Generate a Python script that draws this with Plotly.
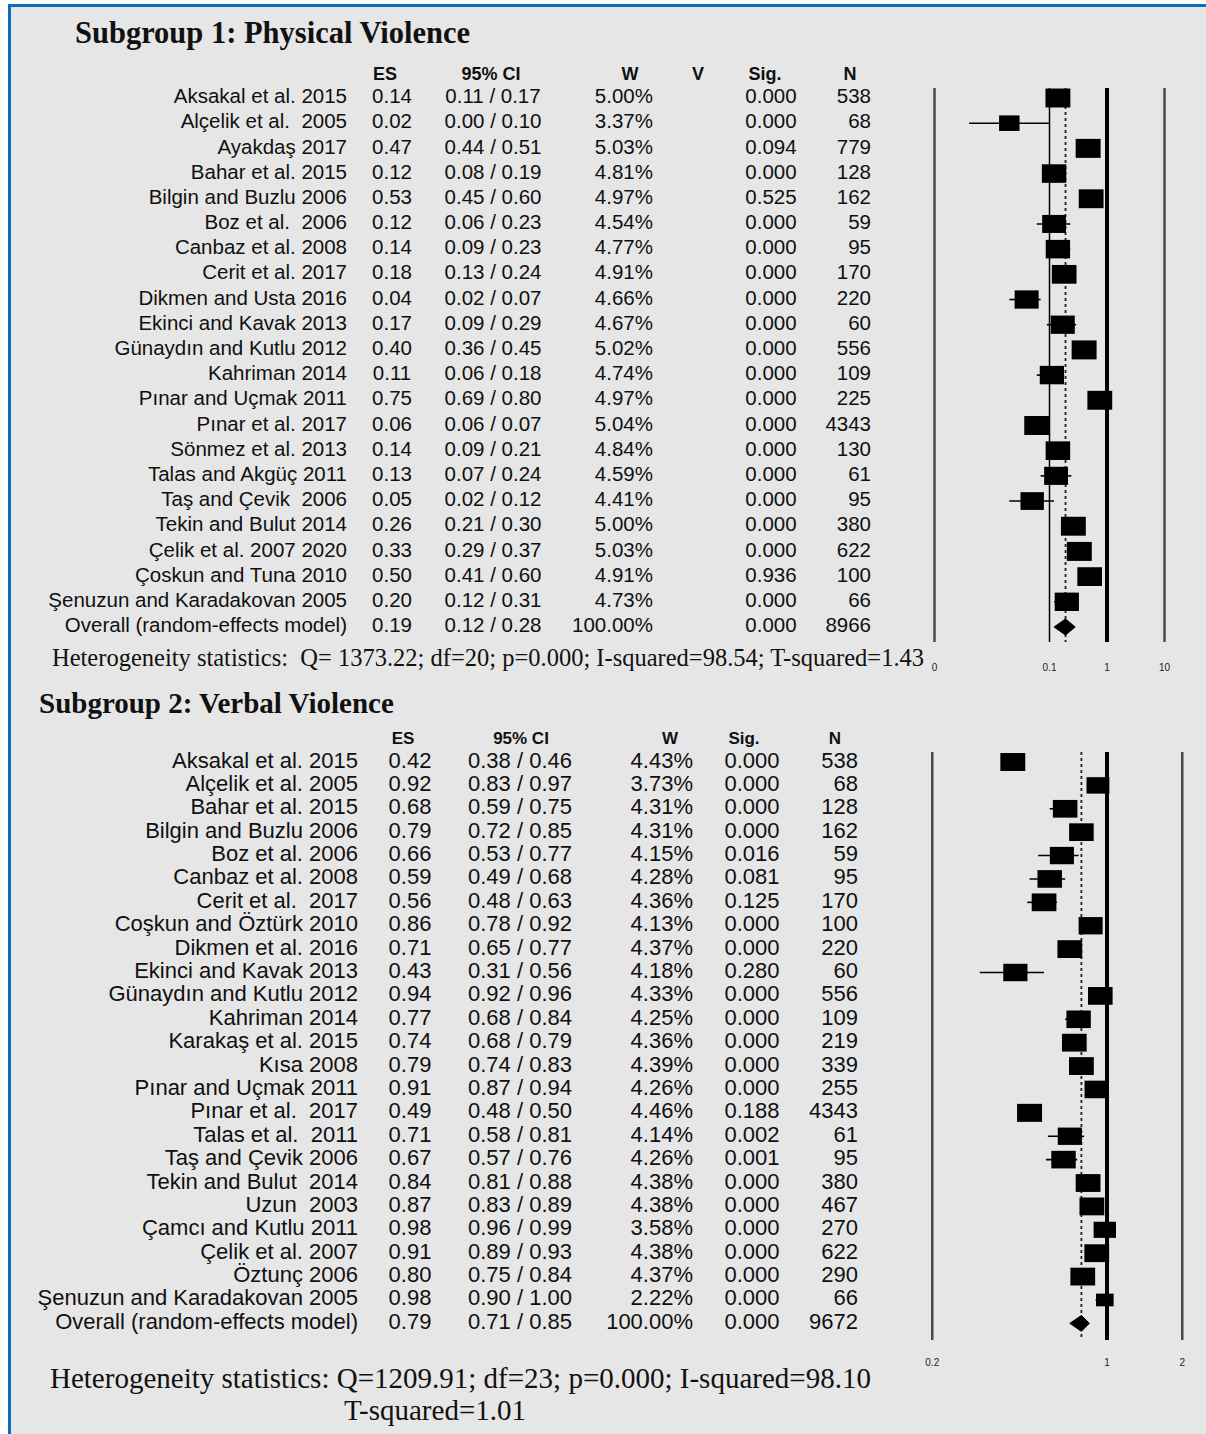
import math
import plotly.graph_objects as go

W_PX, H_PX = 1206, 1434

# ---------------- Subgroup 1: Physical Violence ----------------
s1_names = [
    "Aksakal et al. 2015", "Alçelik et al.  2005", "Ayakdaş 2017", "Bahar et al. 2015",
    "Bilgin and Buzlu 2006", "Boz et al.  2006", "Canbaz et al. 2008", "Cerit et al. 2017",
    "Dikmen and Usta 2016", "Ekinci and Kavak 2013", "Günaydın and Kutlu 2012", "Kahriman 2014",
    "Pınar and Uçmak 2011", "Pınar et al. 2017", "Sönmez et al. 2013", "Talas and Akgüç 2011",
    "Taş and Çevik  2006", "Tekin and Bulut 2014", "Çelik et al. 2007 2020", "Çoskun and Tuna 2010",
    "Şenuzun and Karadakovan 2005",
]
s1_es = [0.14, 0.02, 0.47, 0.12, 0.53, 0.12, 0.14, 0.18, 0.04, 0.17, 0.40, 0.11,
         0.75, 0.06, 0.14, 0.13, 0.05, 0.26, 0.33, 0.50, 0.20]
s1_lo = [0.11, 0.004, 0.44, 0.08, 0.45, 0.06, 0.09, 0.13, 0.02, 0.09, 0.36, 0.06,
         0.69, 0.06, 0.09, 0.07, 0.02, 0.21, 0.29, 0.41, 0.12]
s1_hi = [0.17, 0.10, 0.51, 0.19, 0.60, 0.23, 0.23, 0.24, 0.07, 0.29, 0.45, 0.18,
         0.80, 0.07, 0.21, 0.24, 0.12, 0.30, 0.37, 0.60, 0.31]
s1_w = [5.00, 3.37, 5.03, 4.81, 4.97, 4.54, 4.77, 4.91, 4.66, 4.67, 5.02, 4.74,
        4.97, 5.04, 4.84, 4.59, 4.41, 5.00, 5.03, 4.91, 4.73]
s1_sig = [0.000, 0.000, 0.094, 0.000, 0.525, 0.000, 0.000, 0.000, 0.000, 0.000, 0.000, 0.000,
          0.000, 0.000, 0.000, 0.000, 0.000, 0.000, 0.000, 0.936, 0.000]
s1_n = [538, 68, 779, 128, 162, 59, 95, 170, 220, 60, 556, 109,
        225, 4343, 130, 61, 95, 380, 622, 100, 66]
s1_overall = ["Overall (random-effects model)", 0.19, 0.12, 0.28, 100.00, 0.000, 8966]
s1_tickvals = [0.001, 0.1, 1, 10]
s1_ticktext = ["0", "0.1", "1", "10"]
s1_headers = ["ES", "95% CI", "W", "V", "Sig.", "N"]
s1_hetero = "Heterogeneity statistics:  Q= 1373.22; df=20; p=0.000; I-squared=98.54; T-squared=1.43"

# ---------------- Subgroup 2: Verbal Violence ----------------
s2_names = [
    "Aksakal et al. 2015", "Alçelik et al. 2005", "Bahar et al. 2015", "Bilgin and Buzlu 2006",
    "Boz et al. 2006", "Canbaz et al. 2008", "Cerit et al.  2017", "Coşkun and Öztürk 2010",
    "Dikmen et al. 2016", "Ekinci and Kavak 2013", "Günaydın and Kutlu 2012", "Kahriman 2014",
    "Karakaş et al. 2015", "Kısa 2008", "Pınar and Uçmak 2011", "Pınar et al.  2017",
    "Talas et al.  2011", "Taş and Çevik 2006", "Tekin and Bulut  2014", "Uzun  2003",
    "Çamcı and Kutlu 2011", "Çelik et al. 2007", "Öztunç 2006", "Şenuzun and Karadakovan 2005",
]
s2_es = [0.42, 0.92, 0.68, 0.79, 0.66, 0.59, 0.56, 0.86, 0.71, 0.43, 0.94, 0.77,
         0.74, 0.79, 0.91, 0.49, 0.71, 0.67, 0.84, 0.87, 0.98, 0.91, 0.80, 0.98]
s2_lo = [0.38, 0.83, 0.59, 0.72, 0.53, 0.49, 0.48, 0.78, 0.65, 0.31, 0.92, 0.68,
         0.68, 0.74, 0.87, 0.48, 0.58, 0.57, 0.81, 0.83, 0.96, 0.89, 0.75, 0.90]
s2_hi = [0.46, 0.97, 0.75, 0.85, 0.77, 0.68, 0.63, 0.92, 0.77, 0.56, 0.96, 0.84,
         0.79, 0.83, 0.94, 0.50, 0.81, 0.76, 0.88, 0.89, 0.99, 0.93, 0.84, 1.00]
s2_w = [4.43, 3.73, 4.31, 4.31, 4.15, 4.28, 4.36, 4.13, 4.37, 4.18, 4.33, 4.25,
        4.36, 4.39, 4.26, 4.46, 4.14, 4.26, 4.38, 4.38, 3.58, 4.38, 4.37, 2.22]
s2_sig = [0.000, 0.000, 0.000, 0.000, 0.016, 0.081, 0.125, 0.000, 0.000, 0.280, 0.000, 0.000,
          0.000, 0.000, 0.000, 0.188, 0.002, 0.001, 0.000, 0.000, 0.000, 0.000, 0.000, 0.000]
s2_n = [538, 68, 128, 162, 59, 95, 170, 100, 220, 60, 556, 109,
        219, 339, 255, 4343, 61, 95, 380, 467, 270, 622, 290, 66]
s2_overall = ["Overall (random-effects model)", 0.79, 0.71, 0.85, 100.00, 0.000, 9672]
s2_tickvals = [0.2, 1, 2]
s2_ticktext = ["0.2", "1", "2"]
s2_headers = ["ES", "95% CI", "W", "Sig.", "N"]
s2_hetero = ["Heterogeneity statistics: Q=1209.91; df=23; p=0.000; I-squared=98.10",
             "T-squared=1.01"]

# ---------------- layout / style constants (pixels) ----------------
SANS = "Liberation Sans, Arial, sans-serif"
SERIF = "Liberation Serif, Times New Roman, serif"
TXT = "#101010"

P1 = dict(row0=98, dy=25.19, top=60, bottom=660, ppd=57.5, one_px=1107,
          plot_l=920, plot_r=1195, tab_r=915, line_top=88, line_bot=642,
          fs=20.5, hfs=18, hdr_row=-0.9, name_x=347, es_x=392, ci_x=493, w_x=653, sig_x=771,
          n_x=871, hdr_x=[385, 491, 630, 698, 765, 850], box_w=25, box_h=19, dia_h=0.32,
          refstyle=[("#4a4a4a", 2.5), ("#000", 1.5), ("#000", 4), ("#4a4a4a", 2.5)],
          xa="x", xt="x3", ya="y")
P2 = dict(row0=762, dy=23.39, top=720, bottom=1355, ppd=250.0, one_px=1107,
          plot_l=920, plot_r=1195, tab_r=915, line_top=752, line_bot=1340,
          fs=22, hfs=17, hdr_row=-0.95, name_x=358, es_x=410, ci_x=520, w_x=693, sig_x=752,
          n_x=858, hdr_x=[403, 521, 670, 744, 835], box_w=25, box_h=18, dia_h=0.34,
          refstyle=[("#4a4a4a", 2.5), ("#000", 4), ("#4a4a4a", 2.5)],
          xa="x2", xt="x4", ya="y2")

fig = go.Figure()


def rowr(cfg, py):
    return (py - cfg["row0"]) / cfg["dy"]


def add_panel(cfg, names, es, lo, hi, w, sig, n, overall, tickvals, headers):
    xa, xt, ya = cfg["xa"], cfg["xt"], cfg["ya"]
    rows = list(range(len(names)))
    r_ov = len(names)
    y_top, y_bot = rowr(cfg, cfg["line_top"]), rowr(cfg, cfg["line_bot"])

    # reference vertical lines
    for v, (col, lw) in zip(tickvals, cfg["refstyle"]):
        fig.add_trace(go.Scatter(x=[v, v], y=[y_top, y_bot], mode="lines", xaxis=xa, yaxis=ya,
                                 line=dict(color=col, width=lw), hoverinfo="skip"))
    # dashed overall line
    fig.add_trace(go.Scatter(x=[overall[1], overall[1]], y=[y_top, y_bot], mode="lines",
                             xaxis=xa, yaxis=ya, line=dict(color="#222", width=1.8, dash="dot"),
                             hoverinfo="skip"))
    # whiskers
    for i in rows:
        fig.add_trace(go.Scatter(x=[lo[i], hi[i]], y=[i, i], mode="lines", xaxis=xa, yaxis=ya,
                                 line=dict(color="#000", width=1.6), hoverinfo="skip"))
    # boxes (thick horizontal segments -> rectangles), size ~ sqrt(weight)
    wmax = max(w)
    for i in rows:
        s = math.sqrt(w[i] / wmax)
        half = cfg["box_w"] * s / 2.0
        k = 10 ** (half / cfg["ppd"])
        fig.add_trace(go.Scatter(x=[es[i] / k, es[i] * k], y=[i, i], mode="lines",
                                 xaxis=xa, yaxis=ya,
                                 line=dict(color="#000", width=cfg["box_h"] * s),
                                 hoverinfo="skip"))
    # overall diamond
    h = cfg["dia_h"]
    fig.add_trace(go.Scatter(x=[overall[2], overall[1], overall[3], overall[1], overall[2]],
                             y=[r_ov, r_ov - h, r_ov, r_ov + h, r_ov], mode="lines",
                             fill="toself", fillcolor="#000", line=dict(color="#000", width=1),
                             xaxis=xa, yaxis=ya, hoverinfo="skip"))

    # table text
    all_names = names + [overall[0]]
    all_es = es + [overall[1]]
    all_lo = lo + [overall[2]]
    all_hi = hi + [overall[3]]
    all_w = w + [overall[4]]
    all_sig = sig + [overall[5]]
    all_n = n + [overall[6]]
    yy = list(range(len(all_names)))
    font = dict(family=SANS, size=cfg["fs"], color=TXT)

    def col(x, texts, pos):
        fig.add_trace(go.Scatter(x=[x] * len(texts), y=yy, text=texts, mode="text",
                                 textposition=pos, textfont=font, xaxis=xt, yaxis=ya,
                                 hoverinfo="skip"))

    col(cfg["name_x"], all_names, "middle left")
    col(cfg["es_x"], [f"{v:.2f}" for v in all_es], "middle center")
    col(cfg["ci_x"], [f"{a:.2f} / {b:.2f}" for a, b in zip(all_lo, all_hi)], "middle center")
    col(cfg["w_x"], [f"{v:.2f}%" for v in all_w], "middle left")
    col(cfg["sig_x"], [f"{v:.3f}" for v in all_sig], "middle center")
    col(cfg["n_x"], [str(v) for v in all_n], "middle left")

    # headers
    fig.add_trace(go.Scatter(x=cfg["hdr_x"], y=[cfg["hdr_row"]] * len(headers),
                             text=[f"<b>{t}</b>" for t in headers], mode="text",
                             textposition="middle center",
                             textfont=dict(family=SANS, size=cfg["hfs"], color=TXT),
                             xaxis=xt, yaxis=ya, hoverinfo="skip"))


add_panel(P1, s1_names, s1_es, s1_lo, s1_hi, s1_w, s1_sig, s1_n, s1_overall, s1_tickvals, s1_headers)
add_panel(P2, s2_names, s2_es, s2_lo, s2_hi, s2_w, s2_sig, s2_n, s2_overall, s2_tickvals, s2_headers)


def xdom(l, r):
    return [l / W_PX, r / W_PX]


def ydom(t, b):
    return [1 - b / H_PX, 1 - t / H_PX]


def logaxis(cfg, tickvals, ticktext):
    return dict(type="log", domain=xdom(cfg["plot_l"], cfg["plot_r"]),
                range=[(cfg["plot_l"] - cfg["one_px"]) / cfg["ppd"],
                       (cfg["plot_r"] - cfg["one_px"]) / cfg["ppd"]],
                tickvals=tickvals, ticktext=ticktext, showgrid=False, zeroline=False,
                showline=False, ticks="", tickfont=dict(family=SANS, size=10, color="#222"),
                anchor=cfg["ya"], fixedrange=True)


def tabaxis(cfg):
    return dict(domain=xdom(0, cfg["tab_r"]), range=[0, cfg["tab_r"]], visible=False,
                anchor=cfg["ya"], fixedrange=True)


def rowaxis(cfg):
    return dict(domain=ydom(cfg["top"], cfg["bottom"]),
                range=[rowr(cfg, cfg["bottom"]), rowr(cfg, cfg["top"])],
                visible=False, fixedrange=True)


annotations = [
    dict(text="<b>Subgroup 1: Physical Violence</b>", x=73 / W_PX, y=1 - 33 / H_PX,
         xref="paper", yref="paper", xanchor="left", yanchor="middle", showarrow=False,
         font=dict(family=SERIF, size=30.5, color="#111")),
    dict(text="<b>Subgroup 2: Verbal Violence</b>", x=37 / W_PX, y=1 - 703 / H_PX,
         xref="paper", yref="paper", xanchor="left", yanchor="middle", showarrow=False,
         font=dict(family=SERIF, size=29, color="#111")),
    dict(text=s1_hetero, x=50 / W_PX, y=1 - 658 / H_PX,
         xref="paper", yref="paper", xanchor="left", yanchor="middle", showarrow=False,
         font=dict(family=SERIF, size=24.5, color="#111")),
    dict(text=s2_hetero[0], x=460 / W_PX, y=1 - 1378 / H_PX,
         xref="paper", yref="paper", xanchor="center", yanchor="middle", showarrow=False,
         font=dict(family=SERIF, size=29, color="#111")),
    dict(text=s2_hetero[1], x=435 / W_PX, y=1 - 1410 / H_PX,
         xref="paper", yref="paper", xanchor="center", yanchor="middle", showarrow=False,
         font=dict(family=SERIF, size=29, color="#111")),
]

shapes = [
    # white document margin + blue frame
    dict(type="rect", xref="paper", yref="paper", x0=0, x1=1, y0=1 - 4 / H_PX, y1=1,
         fillcolor="white", line=dict(width=0), layer="below"),
    dict(type="rect", xref="paper", yref="paper", x0=0, x1=8 / W_PX, y0=0, y1=1,
         fillcolor="white", line=dict(width=0), layer="below"),
    dict(type="rect", xref="paper", yref="paper", x0=8 / W_PX, x1=1, y0=1 - 7 / H_PX,
         y1=1 - 4 / H_PX, fillcolor="#0a6fc2", line=dict(width=0)),
    dict(type="rect", xref="paper", yref="paper", x0=8 / W_PX, x1=11 / W_PX, y0=0,
         y1=1 - 4 / H_PX, fillcolor="#0a6fc2", line=dict(width=0)),
]

fig.update_layout(
    width=W_PX, height=H_PX, margin=dict(l=0, r=0, t=0, b=0),
    paper_bgcolor="#e6e6e6", plot_bgcolor="rgba(0,0,0,0)", showlegend=False,
    xaxis=logaxis(P1, s1_tickvals, s1_ticktext),
    xaxis2=logaxis(P2, s2_tickvals, s2_ticktext),
    xaxis3=tabaxis(P1), xaxis4=tabaxis(P2),
    yaxis=rowaxis(P1), yaxis2=rowaxis(P2),
    annotations=annotations, shapes=shapes, hovermode=False,
)

fig.write_html("out.html", config={"displayModeBar": False, "staticPlot": True},
               post_script="document.body.style.margin='0';document.body.style.overflow='hidden';")
